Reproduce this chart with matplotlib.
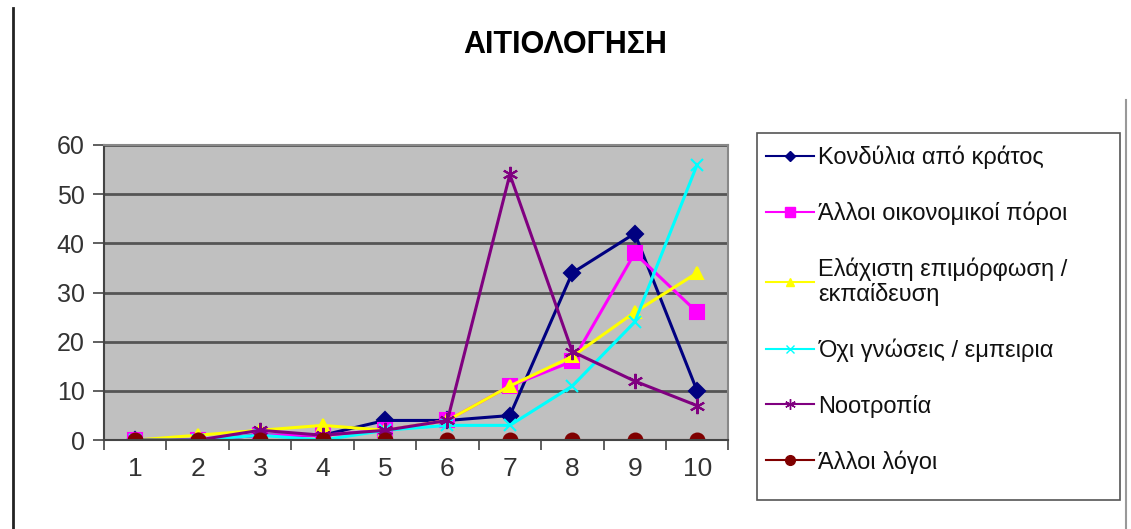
import numpy as np
import matplotlib.pyplot as plt
from matplotlib.lines import Line2D
from matplotlib.patches import Rectangle

plt.rcParams['font.family'] = ['Liberation Sans', 'DejaVu Sans']

# categories on the x axis
categories = [1, 2, 3, 4, 5, 6, 7, 8, 9, 10]

# one list per reason
kondylia = [0, 0, 1, 1, 4, 4, 5, 34, 42, 10]
alloi_poroi = [0, 0, 1, 1, 2, 4, 11, 16, 38, 26]
epimorfosi = [0, 1, 2, 3, 2, 4, 11, 17, 26, 34]
gnoseis = [0, 0, 1, 0, 2, 3, 3, 11, 24, 56]
nootropia = [0, 0, 2, 1, 2, 4, 54, 18, 12, 7]
alloi_logoi = [0, 0, 0, 0, 0, 0, 0, 0, 0, 0]

labels = ["Κονδύλια από κράτος", "Άλλοι οικονομικοί πόροι",
          "Ελάχιστη επιμόρφωση /\nεκπαίδευση", "Όχι γνώσεις / εμπειρια",
          "Νοοτροπία", "Άλλοι λόγοι"]
series = [kondylia, alloi_poroi, epimorfosi, gnoseis, nootropia, alloi_logoi]
colors = ["#000080", "#FF00FF", "#FFFF00", "#00FFFF", "#800080", "#800000"]
markers = ["D", "s", "^", "x", (6, 2, 0), "o"]
msizes = [8, 10, 9, 8, 11, 10]

W, H = 1131, 529
fig = plt.figure(figsize=(W / 100, H / 100), dpi=100)
ax = fig.add_axes([0.092, 0.168, 0.552, 0.558])
ax.set_facecolor("#C0C0C0")

x = np.arange(len(categories))
for vals, c, m, ms in zip(series, colors, markers, msizes):
    ax.plot(x, vals, color=c, lw=2.2, marker=m, ms=ms, mec=c, mfc=c, mew=1.5)

ax.set_xlim(-0.5, len(categories) - 0.5)
ax.set_ylim(0, 60)
ax.set_yticks(range(0, 61, 10))
ax.yaxis.grid(True, color="#555555", lw=2)
ax.set_axisbelow(True)

# labels sit in category centres, ticks on the boundaries
ax.set_xticks(x)
ax.set_xticklabels([str(c) for c in categories])
ax.set_xticks(np.arange(-0.5, len(categories)), minor=True)
ax.tick_params(axis="x", which="major", length=0, pad=12, labelsize=19, labelcolor="#333333")
ax.tick_params(axis="x", which="minor", length=7, width=1.2, color="#444444")
ax.tick_params(axis="y", length=8, width=1.2, color="#444444", pad=6, labelsize=18, labelcolor="#333333")

for side in ["left", "bottom"]:
    ax.spines[side].set_color("#444444")
    ax.spines[side].set_linewidth(1.5)
for side in ["top", "right"]:
    ax.spines[side].set_color("#888888")
    ax.spines[side].set_linewidth(1.5)

fig.text(0.5, 0.915, "ΑΙΤΙΟΛΟΓΗΣΗ", ha="center", va="center",
         fontsize=22, fontweight="bold", color="black")

# legend box drawn separately so its size is fixed
box_l, box_r, box_t, box_b = 757, 1120, 133, 500
fig.add_artist(Rectangle((box_l / W, 1 - box_b / H), (box_r - box_l) / W, (box_b - box_t) / H,
                         transform=fig.transFigure, facecolor="white",
                         edgecolor="#555555", lw=1.2))

handles = [Line2D([], [], color=c, lw=1.5, marker=m, ms=ms * 0.7, mec=c, mfc=c)
           for c, m, ms in zip(colors, markers, msizes)]
leg = fig.legend(handles, labels, loc="upper left",
                 bbox_to_anchor=(box_l / W, 1 - (box_t + 3) / H),
                 bbox_transform=fig.transFigure,
                 fontsize=17, frameon=False,
                 handlelength=2.0, handletextpad=0.2, labelspacing=1.38,
                 borderpad=0.4, borderaxespad=0)
for t in leg.get_texts():
    t.set_color("#111111")
leg.get_texts()[2].set_linespacing(1.1)

# outer frame lines of the chart area
fig.add_artist(Line2D([13 / W, 13 / W], [0, 1 - 8 / H], color="#222222", lw=2))
fig.add_artist(Line2D([1126 / W, 1126 / W], [0, 1 - 100 / H], color="#999999", lw=1.5))

fig.savefig("out.png", dpi=100)
